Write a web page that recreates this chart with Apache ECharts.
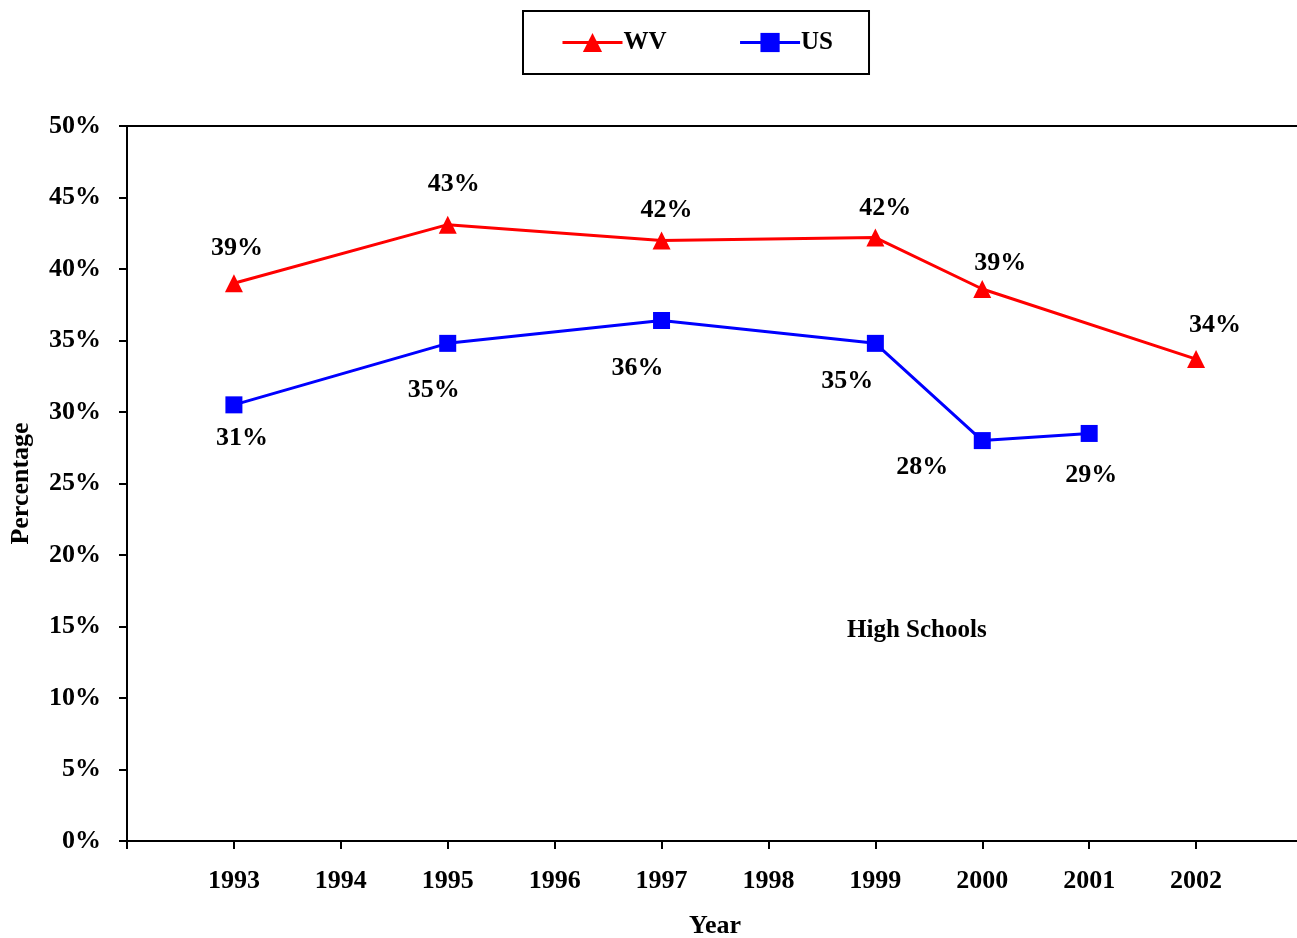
<!DOCTYPE html>
<html>
<head>
<meta charset="utf-8">
<script src="https://cdn.jsdelivr.net/npm/echarts@6/dist/echarts.min.js"></script>
<style>
  html, body { margin: 0; padding: 0; background: #fff; }
  #main { width: 1297px; height: 938px; }
</style>
</head>
<body>
<div id="main"></div>
<script>
// years on the x axis (blank slots at both ends, like the original)
const years = ['', '1993', '1994', '1995', '1996', '1997', '1998', '1999', '2000', '2001', '2002', ''];
// percentages, null = no survey that year
const wvValues = [null, 39.0, null, 43.1, null, 42.0, null, 42.2, 38.6, null, 33.7, null];
const usValues = [null, 30.5, null, 34.8, null, 36.4, null, 34.8, 28.0, 28.5, null, null];
const yTicks = [0, 5, 10, 15, 20, 25, 30, 35, 40, 45, 50];

// label nudges (px, relative to the marker centre)
const wvLabelOffsets = [null, [3, -35], null, [6, -40], null, [5, -30], null, [10, -29], [18, -26], null, [19, -34], null];
const usLabelOffsets = [null, [8, 33], null, [-14, 47], null, [-24, 48], null, [-28, 38], [-60, 27], [2, 42], null, null];

const FONT = 'Liberation Serif';
const txt = { fontFamily: FONT, fontWeight: 'bold', fontSize: 26, color: '#000' };

function withLabels(values, offsets) {
  return values.map((v, i) => {
    if (v == null) return null;
    return {
      value: v,
      label: { show: true, position: 'inside', offset: offsets[i] }
    };
  });
}

const chart = echarts.init(document.getElementById('main'));
chart.setOption({
  animation: false,
  backgroundColor: '#fff',
  legend: {
    left: 523,
    top: 11,
    padding: [19, 36, 19, 38],
    itemGap: 72,
    itemWidth: 60,
    itemHeight: 24,
    borderColor: '#000',
    borderWidth: 2,
    lineStyle: { width: 3 },
    textStyle: { fontFamily: FONT, fontWeight: 'bold', fontSize: 25, color: '#000', padding: [0, 0, 0, -4] },
    data: ['WV', 'US']
  },
  // right edge runs just past the canvas, as in the original
  grid: { left: 127, right: -6, top: 126, bottom: 97, outerBoundsMode: 'none', containLabel: false },
  graphic: [{
    type: 'text',
    left: 847,
    top: 618,
    style: { text: 'High Schools', font: 'bold 25px "Liberation Serif"', fill: '#000' }
  }],
  xAxis: [{
    type: 'category',
    data: years,
    boundaryGap: false,
    name: 'Year',
    nameLocation: 'middle',
    nameGap: 72,
    nameTextStyle: txt,
    axisLine: { lineStyle: { color: '#000', width: 2 } },
    axisTick: { length: 8, lineStyle: { color: '#000', width: 2 } },
    axisLabel: Object.assign({ margin: 27, interval: 0 }, txt),
    splitLine: { show: false }
  }, {
    type: 'category',
    data: years,
    position: 'top',
    boundaryGap: false,
    axisLine: { lineStyle: { color: '#000', width: 2 } },
    axisTick: { show: false },
    axisLabel: { show: false },
    splitLine: { show: false }
  }],
  yAxis: {
    type: 'value',
    min: yTicks[0],
    max: yTicks[yTicks.length - 1],
    interval: 5,
    name: 'Percentage',
    nameLocation: 'middle',
    nameGap: 93,
    nameTextStyle: txt,
    axisLine: { show: true, lineStyle: { color: '#000', width: 2 } },
    axisTick: { show: true, length: 8, lineStyle: { color: '#000', width: 2 } },
    axisLabel: Object.assign({ margin: 26, formatter: v => v + '%' }, txt),
    splitLine: { show: false }
  },
  series: [{
    name: 'WV',
    type: 'line',
    data: withLabels(wvValues, wvLabelOffsets),
    connectNulls: true,
    symbol: 'triangle',
    symbolSize: 18,
    color: '#ff0000',
    lineStyle: { width: 3, color: '#ff0000' },
    itemStyle: { color: '#ff0000' },
    label: Object.assign({ formatter: p => Math.round(p.value) + '%' }, txt)
  }, {
    name: 'US',
    type: 'line',
    data: withLabels(usValues, usLabelOffsets),
    connectNulls: true,
    symbol: 'rect',
    symbolSize: 17,
    color: '#0000ff',
    lineStyle: { width: 3, color: '#0000ff' },
    itemStyle: { color: '#0000ff' },
    label: Object.assign({ formatter: p => Math.round(p.value) + '%' }, txt)
  }]
});
</script>
</body>
</html>
